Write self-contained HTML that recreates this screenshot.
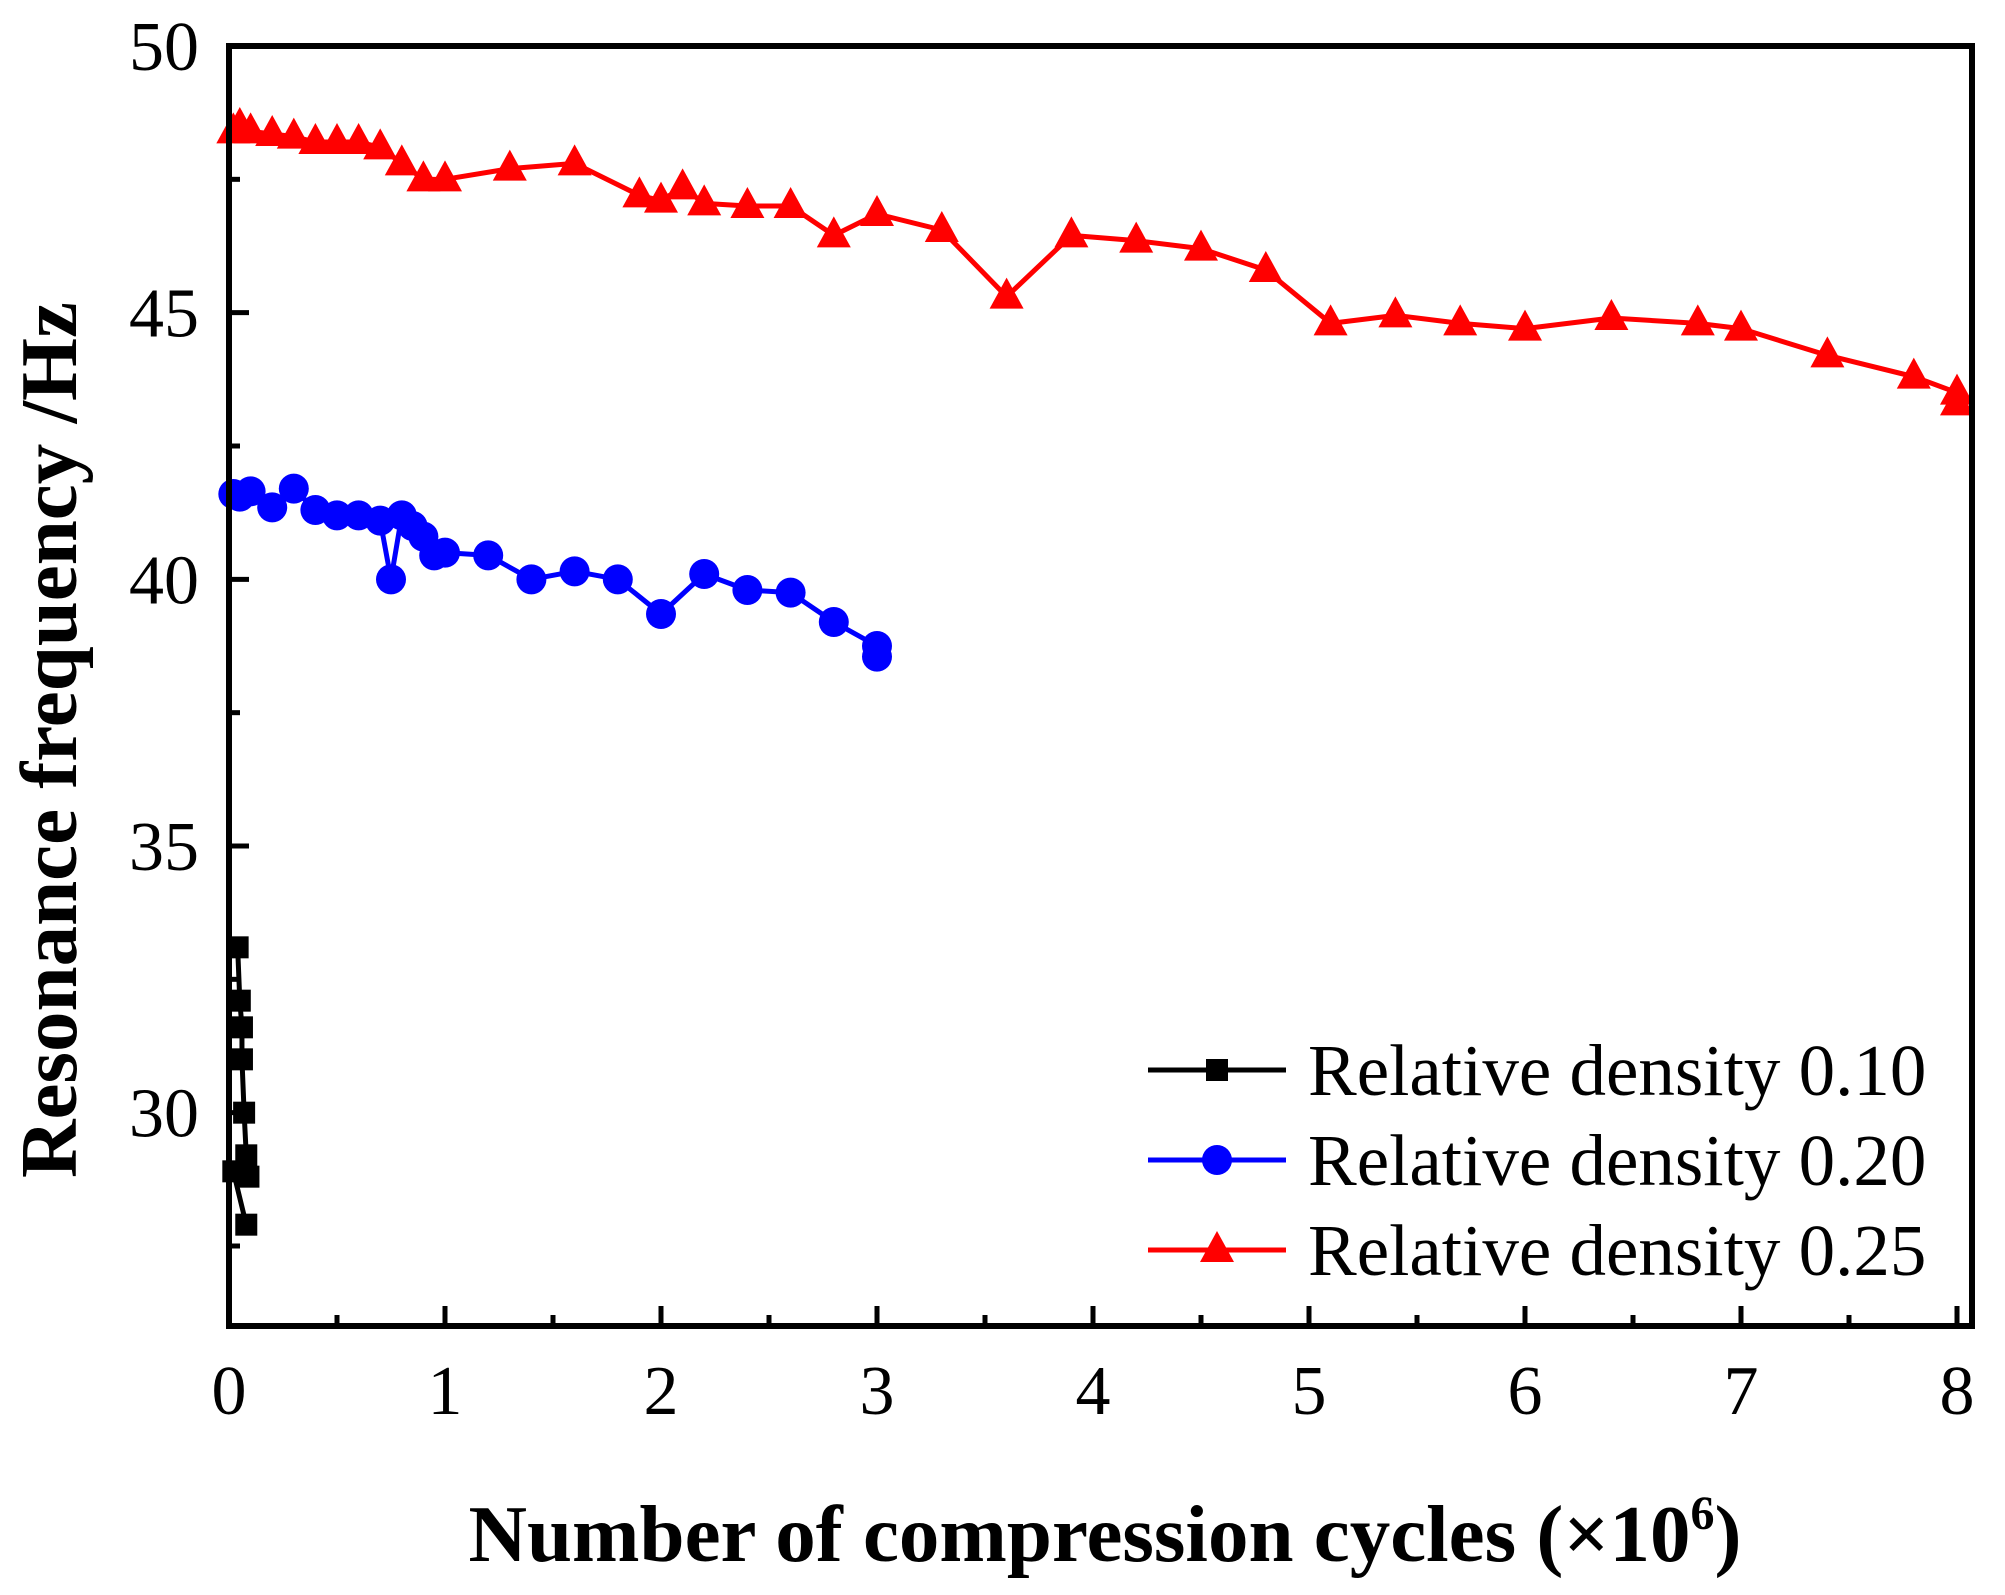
<!DOCTYPE html>
<html><head><meta charset="utf-8"><style>html,body{margin:0;padding:0;background:#fff}svg{display:block}</style></head>
<body>
<svg id="chart" width="2005" height="1595" xmlns="http://www.w3.org/2000/svg" font-family="'Liberation Serif', serif"></svg>
<script>
const xTicks=[0,1,2,3,4,5,6,7,8];
const yTicks=[30,35,40,45,50];
const s010x=[0.04,0.05,0.06,0.06,0.07,0.08,0.09,0.02,0.08];
const s010y=[33.1,32.1,31.6,31.0,30.0,29.2,28.8,28.9,27.9];
const s020x=[0.02,0.05,0.1,0.2,0.3,0.4,0.5,0.6,0.7,0.75,0.8,0.85,0.9,0.95,1.0,1.2,1.4,1.6,1.8,2.0,2.2,2.4,2.6,2.8,3.0,3.0];
const s020y=[41.6,41.55,41.65,41.35,41.7,41.3,41.2,41.2,41.1,40.0,41.2,41.0,40.8,40.45,40.5,40.45,40.0,40.15,40.0,39.35,40.1,39.8,39.75,39.2,38.75,38.55];
const s025x=[0.02,0.05,0.1,0.2,0.3,0.4,0.5,0.6,0.7,0.8,0.9,1.0,1.3,1.6,1.9,2.0,2.1,2.2,2.4,2.6,2.8,3.0,3.3,3.6,3.9,4.2,4.5,4.8,5.1,5.4,5.7,6.0,6.4,6.8,7.0,7.4,7.8,8.0,8.0];
const s025y=[48.4,48.5,48.4,48.35,48.3,48.2,48.2,48.2,48.1,47.8,47.5,47.5,47.7,47.8,47.2,47.1,47.35,47.05,47.0,47.0,46.45,46.85,46.55,45.3,46.45,46.35,46.2,45.8,44.8,44.95,44.8,44.7,44.9,44.8,44.7,44.2,43.8,43.5,43.3];
const L=229,R=1972,T=46,B=1326;
const X=v=>L+v*216, Y=v=>T+(50-v)*(B-T)/24;
const svg=document.getElementById('chart');
function el(tag,attrs,parent){const e=document.createElementNS('http://www.w3.org/2000/svg',tag);for(const k in attrs)e.setAttribute(k,attrs[k]);(parent||svg).appendChild(e);return e;}
function marker(shape,cx,cy,color,g){
  if(shape==='sq')return el('rect',{x:cx-11,y:cy-11,width:22,height:22,fill:color},g);
  if(shape==='c')return el('circle',{cx:cx,cy:cy,r:15,fill:color},g);
  return el('polygon',{points:`${cx},${cy-19} ${cx-17},${cy+12} ${cx+17},${cy+12}`,fill:color},g);
}
function series(xs,ys,color,shape,name){
  const g=el('g',{});
  
  
  el('polyline',{points:xs.map((x,i)=>X(x)+','+Y(ys[i])).join(' '),fill:'none',stroke:color,'stroke-width':5,'stroke-linejoin':'round'},g);
  xs.forEach((x,i)=>{const m=marker(shape,X(x),Y(ys[i]),color,g);
    
    
  });
}
series(s025x,s025y,'#ff0000','t','series-density-025');
series(s020x,s020y,'#0000ff','c','series-density-020');
series(s010x,s010y,'#000000','sq','series-density-010');
const fr=el('rect',{x:L,y:T,width:R-L,height:B-T,fill:'none',stroke:'#000','stroke-width':6});


xTicks.forEach(v=>{el('line',{x1:X(v),x2:X(v),y1:B,y2:B-20,stroke:'#000','stroke-width':5});
  const t=el('text',{x:X(v),y:B+88,'font-size':70,'text-anchor':'middle'});t.textContent=v;
  
  
  if(v<8)el('line',{x1:X(v+0.5),x2:X(v+0.5),y1:B,y2:B-11,stroke:'#000','stroke-width':5});});
yTicks.forEach(v=>{el('line',{x1:L,x2:L+20,y1:Y(v),y2:Y(v),stroke:'#000','stroke-width':5});
  el('line',{x1:L,x2:L+11,y1:Y(v-2.5),y2:Y(v-2.5),stroke:'#000','stroke-width':5});
  const t=el('text',{x:L-30,y:Y(v)+24,'font-size':70,'text-anchor':'end'});t.textContent=v;
  
  });
const xt=el('text',{x:1105,y:1561,'font-size':81,'font-weight':'bold','text-anchor':'middle'});
xt.innerHTML='Number of compression cycles (×10<tspan dy="-32" font-size="48">6</tspan><tspan dy="32">)</tspan>';


const yt=el('text',{x:0,y:0,'font-size':81,'font-weight':'bold','text-anchor':'middle',transform:'translate(76,740) rotate(-90)'});
yt.textContent='Resonance frequency /Hz';


const legText=['Relative density 0.10','Relative density 0.20','Relative density 0.25'];
const legColor=['#000','#0000ff','#ff0000'];
const legShape=['sq','c','t'];
const legY=[1070,1160,1250];
legText.forEach((txt,i)=>{const g=el('g',{});const y=legY[i];
  
  
  el('line',{x1:1148,x2:1286,y1:y,y2:y,stroke:legColor[i],'stroke-width':5},g);
  marker(legShape[i],1217,y,legColor[i],g);
  const t=el('text',{x:1308,y:y+25,'font-size':73},g);t.textContent=txt;});
</script>
</body></html>
